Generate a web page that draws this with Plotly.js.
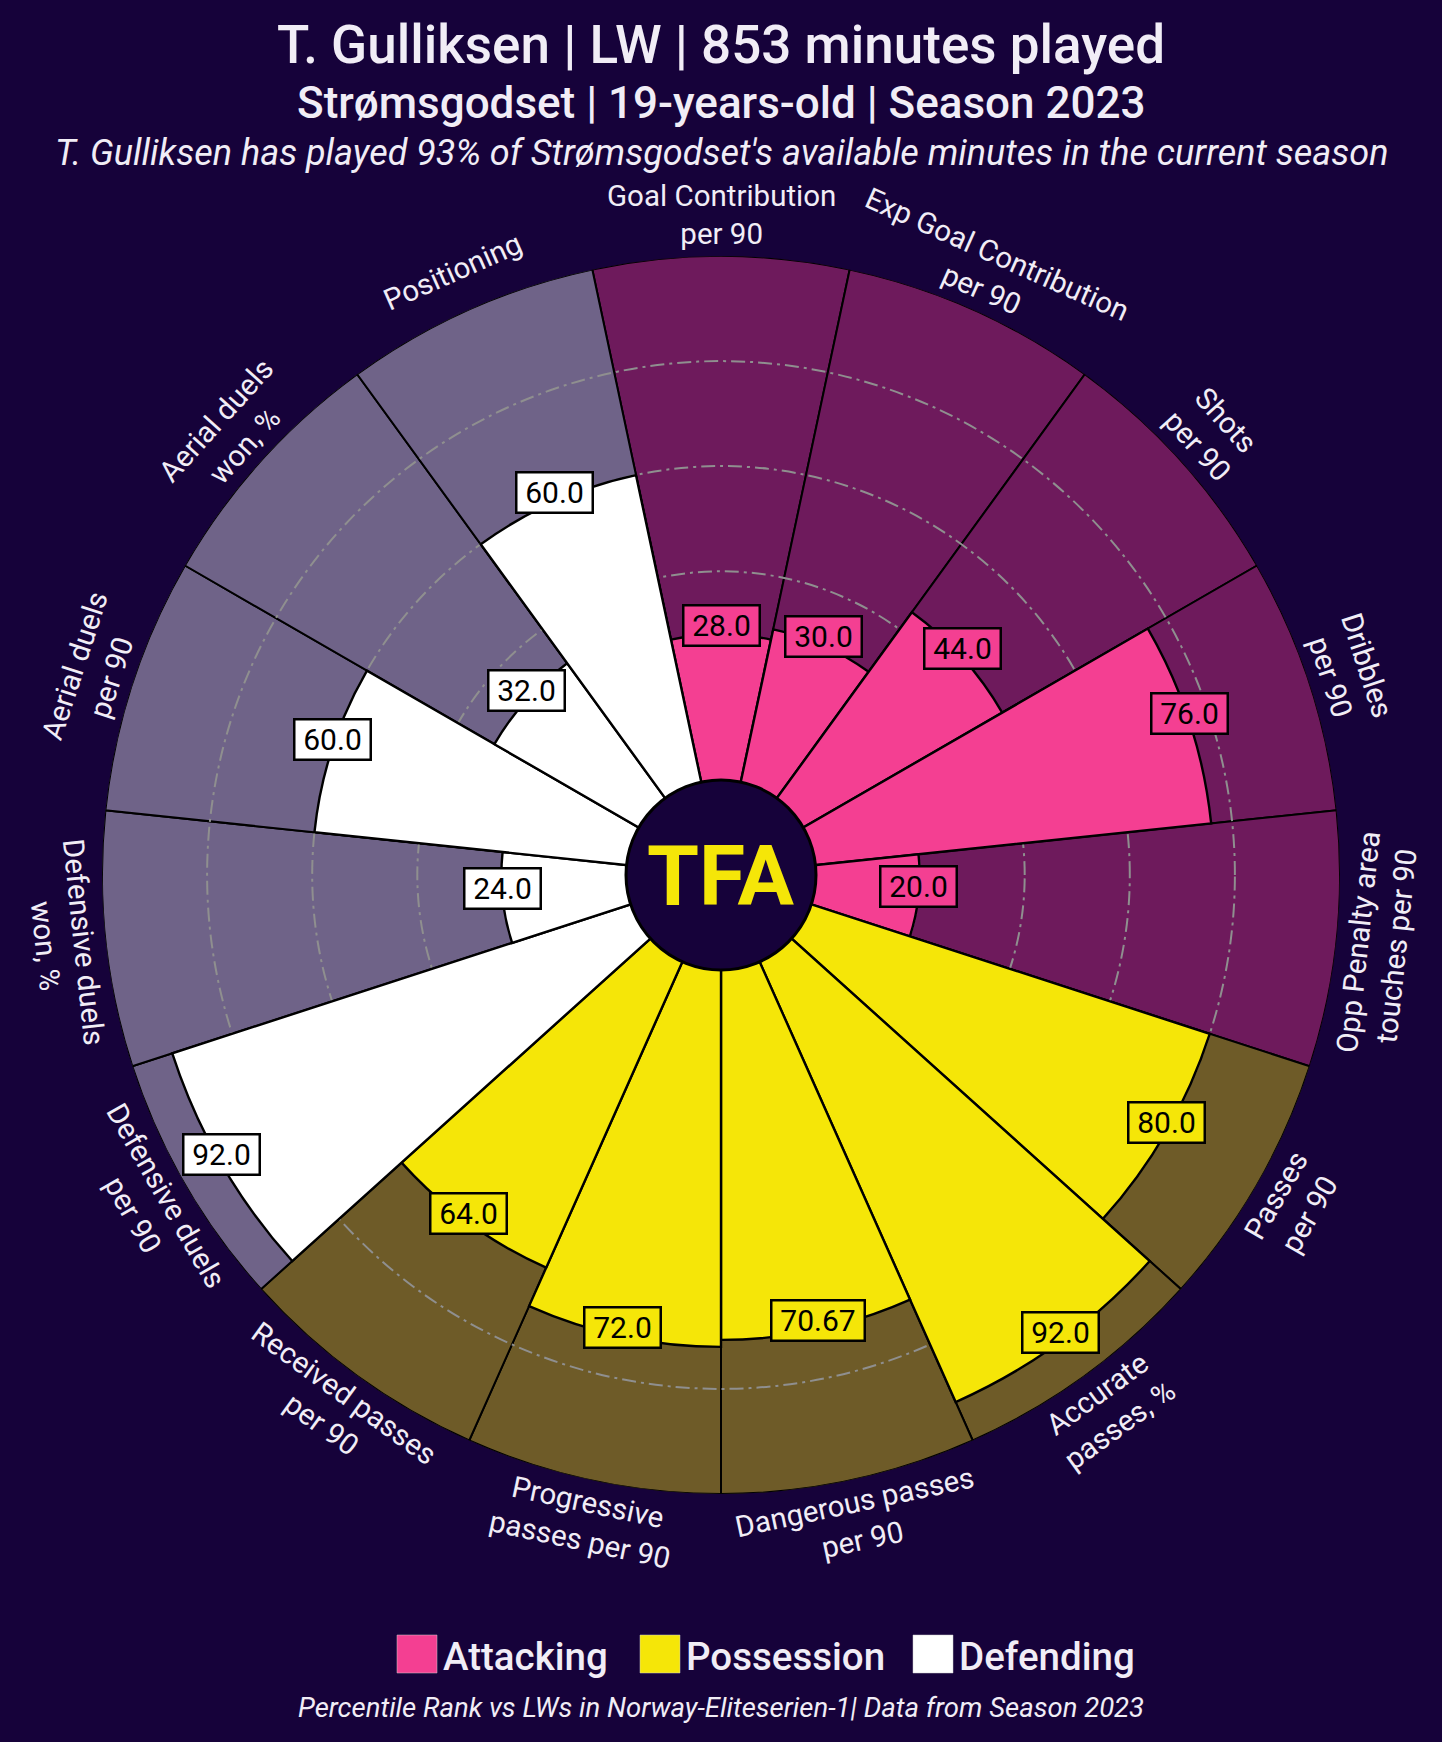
<!DOCTYPE html>
<html>
<head>
<meta charset="utf-8">
<script src="https://cdn.plot.ly/plotly-3.0.1.min.js"></script>
<style>
html,body{margin:0;padding:0;background:#16023a;}
#chart{width:1442px;height:1742px;}
</style>
</head>
<body>
<div id="chart"></div>
<script>
// ---------- DATA ----------
const categories = [
  "Goal Contribution per 90", "Exp Goal Contribution per 90", "Shots per 90", "Dribbles per 90",
  "Opp Penalty area touches per 90", "Passes per 90", "Accurate passes, %", "Dangerous passes per 90",
  "Progressive passes per 90", "Received passes per 90", "Defensive duels per 90", "Defensive duels won, %",
  "Aerial duels per 90", "Aerial duels won, %", "Positioning"
];
const labels = [
  "Goal Contribution<br>per 90", "Exp Goal Contribution<br>per 90", "Shots<br>per 90", "Dribbles<br>per 90",
  "Opp Penalty area<br>touches per 90", "Passes<br>per 90", "Accurate<br>passes, %", "Dangerous passes<br>per 90",
  "Progressive<br>passes per 90", "Received passes<br>per 90", "Defensive duels<br>per 90", "Defensive duels<br>won, %",
  "Aerial duels<br>per 90", "Aerial duels<br>won, %", "Positioning"
];
const values = [28, 30, 44, 76, 20, 80, 92, 70.67, 72, 64, 92, 24, 60, 32, 60];
const maxValues = [100, 100, 100, 100, 100, 100, 100, 100, 100, 100, 100, 100, 100, 100, 100];
const groups = [
  "Attacking", "Attacking", "Attacking", "Attacking", "Attacking",
  "Possession", "Possession", "Possession", "Possession", "Possession",
  "Defending", "Defending", "Defending", "Defending", "Defending"
];
const legendNames = ["Attacking", "Possession", "Defending"];
const gridValues = [20, 40, 60, 80];
const titleLine = "T. Gulliksen | LW | 853 minutes played";
const subtitleLine = "Strømsgodset | 19-years-old | Season 2023";
const noteLine = "T. Gulliksen has played 93% of Strømsgodset's available minutes in the current season";
const footerLine = "Percentile Rank vs LWs in Norway-Eliteserien-1| Data from Season 2023";
const logoText = "TFA";

// ---------- STYLE ----------
const W = 1442, H = 1742;
const CX = 721, CY = 875, R = 619, HOLE = 93.5 / 619;
const BG = "#16023a";
const TXT = "#f1edf6";
const barColor = {Attacking: "#f43f92", Possession: "#f5e608", Defending: "#ffffff"};
const backColor = {Attacking: "#6e1a5c", Possession: "#6e5b28", Defending: "#6f6388"};
const FONT = "Roboto, 'Open Sans', sans-serif";

const domain = {
  x: [(CX - R) / W, (CX + R) / W],
  y: [(H - CY - R) / H, (H - CY + R) / H]
};
const angAxis = {
  rotation: 90, direction: "clockwise", type: "category",
  categoryorder: "array", categoryarray: categories,
  showgrid: false, showline: false, showticklabels: false, ticks: ""
};

const traces = [
  {
    type: "barpolar", subplot: "polar", r: maxValues, theta: categories,
    marker: {color: groups.map(g => backColor[g]), line: {color: "#000000", width: 2}},
    hoverinfo: "skip", showlegend: false
  },
  {
    type: "barpolar", subplot: "polar2", r: values, theta: categories,
    marker: {color: groups.map(g => barColor[g]), line: {color: "#000000", width: 2.4}},
    hoverinfo: "skip", showlegend: false
  }
];

// geometry helpers (same mapping as the polar subplot: r from hole to outer edge)
function toPaper(idx, v, dyPx) {
  const th = (90 - 360 / categories.length * idx) * Math.PI / 180;
  const rp = R * HOLE + (v / 100) * R * (1 - HOLE);
  const px = CX + rp * Math.cos(th);
  const py = CY - rp * Math.sin(th) + (dyPx || 0);
  return {x: px / W, y: 1 - py / H};
}
const ctx = document.createElement("canvas").getContext("2d");
function textWidth(t, size) {
  ctx.font = size + "px Roboto";
  return ctx.measureText(t).width;
}

const annotations = [];
// category labels
categories.forEach((c, i) => {
  let th = 90 - 360 / categories.length * i;
  while (th > 180) th -= 360;
  while (th <= -180) th += 360;
  const ang = th > 0 ? 90 - th : -(th + 90);
  const p = toPaper(i, 107.8, 0);
  annotations.push({
    xref: "paper", yref: "paper", x: p.x, y: p.y, xanchor: "center", yanchor: "middle",
    text: labels[i], showarrow: false, textangle: ang, align: "center",
    font: {family: FONT, size: 29.5, color: TXT}
  });
});
// value labels
values.forEach((v, i) => {
  const t = Number.isInteger(v) ? v.toFixed(1) : String(v);
  const p = toPaper(i, v, -9);
  annotations.push({
    xref: "paper", yref: "paper", x: p.x, y: p.y, xanchor: "center", yanchor: "middle",
    text: t, showarrow: false,
    font: {family: FONT, size: 30, color: "#000000"},
    bgcolor: barColor[groups[i]], bordercolor: "#000000", borderwidth: 2.5, borderpad: 2,
    width: Math.round(textWidth(t, 30) + 12), height: 34
  });
});
// logo
annotations.push({
  xref: "paper", yref: "paper", x: CX / W, y: 1 - (CY + 1) / H, xanchor: "center", yanchor: "middle",
  text: "<b>" + logoText + "</b>", showarrow: false,
  font: {family: "Roboto, sans-serif", size: 84, color: "#f5e608", weight: 900}
});
// subtitle lines
annotations.push({
  xref: "paper", yref: "paper", x: 0.5, y: 1 - 103 / H, xanchor: "center", yanchor: "middle",
  text: subtitleLine, showarrow: false,
  font: {family: FONT, size: 44, color: TXT, weight: 500}
});
annotations.push({
  xref: "paper", yref: "paper", x: 0.5, y: 1 - 153 / H, xanchor: "center", yanchor: "middle",
  text: noteLine, showarrow: false,
  font: {family: FONT, size: 36, color: TXT, style: "italic"}
});
annotations.push({
  xref: "paper", yref: "paper", x: 0.5, y: 1 - 1707 / H, xanchor: "center", yanchor: "middle",
  text: footerLine, showarrow: false,
  font: {family: FONT, size: 27.5, color: TXT, style: "italic"}
});

// legend (boxes + names)
const legendBoxX = [397, 640, 913];
const shapes = [];
legendNames.forEach((g, k) => {
  shapes.push({
    type: "rect", xref: "paper", yref: "paper",
    x0: legendBoxX[k] / W, x1: (legendBoxX[k] + 40) / W,
    y0: 1 - 1673 / H, y1: 1 - 1635 / H,
    fillcolor: barColor[g], line: {color: "#cccccc", width: 0.5}, layer: "above"
  });
  annotations.push({
    xref: "paper", yref: "paper", x: (legendBoxX[k] + 44) / W, y: 1 - 1656 / H,
    xanchor: "left", yanchor: "middle", text: g, showarrow: false,
    font: {family: FONT, size: 38.5, color: TXT, weight: 500}
  });
});
// center circle
shapes.push({
  type: "circle", xref: "paper", yref: "paper",
  x0: (CX - 95) / W, x1: (CX + 95) / W, y0: 1 - (CY + 95) / H, y1: 1 - (CY - 95) / H,
  fillcolor: BG, line: {color: "#000000", width: 3}, layer: "above"
});

const layout = {
  width: W, height: H,
  paper_bgcolor: BG, plot_bgcolor: BG,
  margin: {l: 0, r: 0, t: 0, b: 0},
  showlegend: false,
  title: {
    text: titleLine, x: 0.5, xanchor: "center", y: 1 - 44 / H, yanchor: "middle", yref: "container",
    font: {family: FONT, size: 53, color: TXT, weight: 500}
  },
  polar: {
    domain: domain, hole: HOLE, bgcolor: "rgba(0,0,0,0)", bargap: 0,
    radialaxis: {range: [0, 100], showgrid: false, showline: false, showticklabels: false, ticks: ""},
    angularaxis: angAxis
  },
  polar2: {
    domain: domain, hole: HOLE, bgcolor: "rgba(0,0,0,0)", bargap: 0,
    radialaxis: {
      range: [0, 100], tickvals: gridValues, showgrid: true, gridcolor: "#8f8f8f", gridwidth: 2,
      griddash: "14px,5px,3px,5px", showline: false, showticklabels: false, ticks: ""
    },
    angularaxis: angAxis
  },
  annotations: annotations,
  shapes: shapes
};

Plotly.newPlot("chart", traces, layout, {staticPlot: true, displayModeBar: false});
</script>
</body>
</html>
